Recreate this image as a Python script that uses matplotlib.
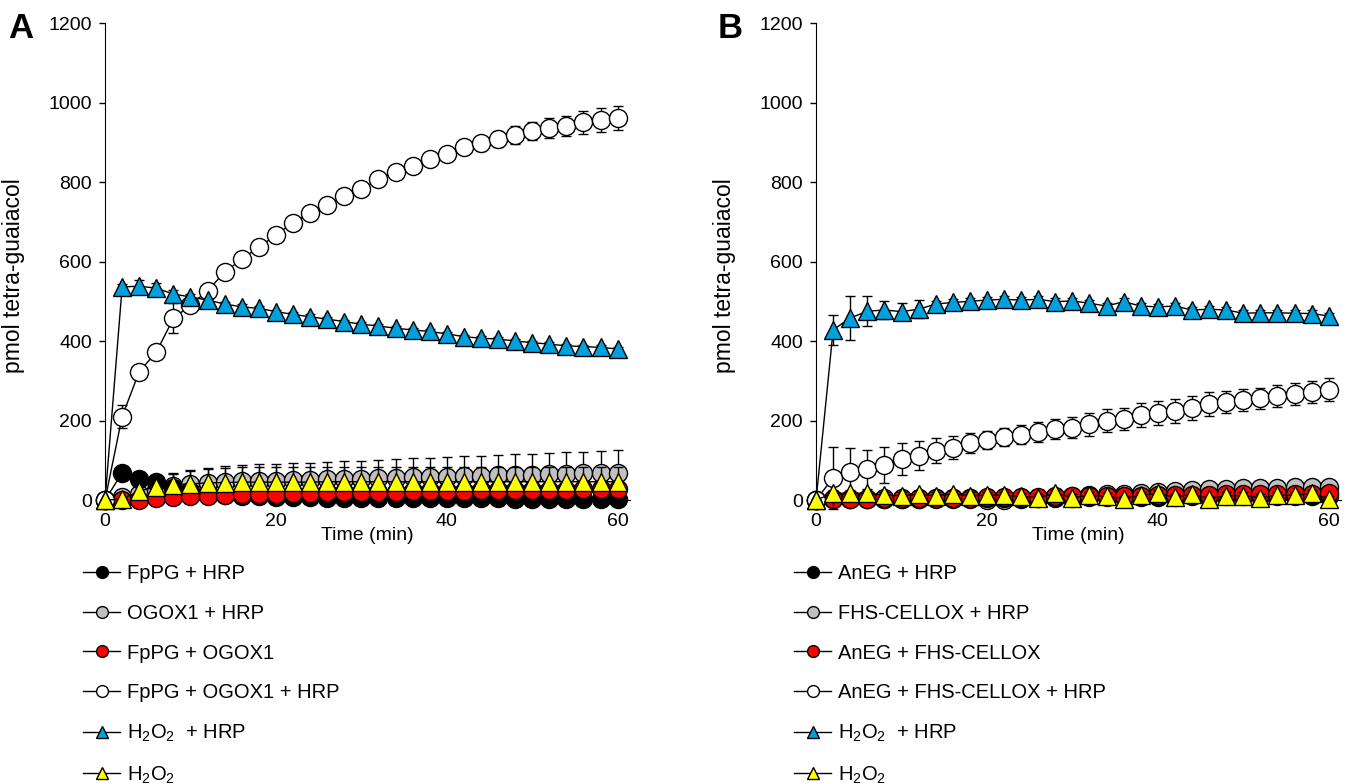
import numpy as np
import matplotlib.pyplot as plt
from matplotlib.lines import Line2D

plt.rcParams['font.family'] = ['Liberation Sans', 'DejaVu Sans']
plt.rcParams['mathtext.fontset'] = 'custom'
plt.rcParams['mathtext.rm'] = 'Liberation Sans'
plt.rcParams['mathtext.it'] = 'Liberation Sans:italic'

# time points (min)
time_min = np.arange(0, 61, 2)

# ---------------- panel A ----------------
labels_a = ['FpPG + HRP', 'OGOX1 + HRP', 'FpPG + OGOX1', 'FpPG + OGOX1 + HRP',
            'H$_2$O$_2$  + HRP', 'H$_2$O$_2$']

a_fppg_hrp = [0, 68, 53, 46, 30, 22, 16, 12, 10, 9, 8, 7, 7, 6, 6, 5, 5, 5, 4, 4,
              4, 4, 4, 4, 3, 3, 3, 3, 3, 3, 3]
a_fppg_hrp_err = [0, 5, 5, 5, 4, 4, 3, 3, 3, 3, 3, 3, 3, 3, 3, 3, 3, 3, 3, 3,
                  3, 3, 3, 3, 3, 3, 3, 3, 3, 3, 3]
a_ogox_hrp = [0, 8, 14, 25, 35, 40, 43, 45, 47, 48, 49, 50, 51, 52, 53, 54, 55, 56, 57, 58,
              59, 60, 61, 62, 63, 64, 65, 66, 67, 68, 69]
a_ogox_hrp_err = [0, 12, 25, 30, 32, 35, 38, 40, 40, 42, 42, 43, 43, 44, 45, 45, 46, 47, 48, 48,
                  49, 50, 50, 51, 52, 53, 54, 54, 55, 56, 57]
a_fppg_ogox = [0, 0, 1, 5, 8, 10, 11, 13, 14, 15, 16, 17, 18, 19, 19, 20, 21, 21, 22, 22,
               23, 23, 24, 24, 25, 25, 26, 26, 27, 27, 28]
a_fppg_ogox_err = [0, 2, 2, 3, 3, 3, 3, 3, 3, 3, 3, 3, 3, 3, 3, 3, 3, 3, 3, 3,
                   3, 3, 3, 3, 3, 3, 3, 3, 3, 3, 3]
a_all = [0, 210, 323, 372, 457, 490, 527, 573, 606, 636, 667, 698, 722, 742, 765, 782, 807, 826,
         841, 858, 870, 887, 897, 908, 918, 928, 935, 942, 950, 955, 962]
a_all_err = [0, 30, 10, 8, 38, 12, 10, 8, 8, 8, 12, 15, 12, 8, 8, 8, 10, 12, 10, 10,
             12, 15, 18, 20, 22, 22, 25, 25, 28, 30, 30]
a_h2o2_hrp = [0, 536, 538, 533, 518, 511, 503, 493, 486, 482, 474, 467, 461, 455, 449, 442,
              438, 432, 428, 424, 418, 411, 407, 405, 400, 396, 392, 388, 386, 384, 380]
a_h2o2_hrp_err = [0, 8, 15, 12, 10, 8, 6, 6, 6, 6, 5, 6, 6, 5, 5, 5, 5, 5, 5, 5,
                  5, 5, 5, 5, 5, 5, 5, 5, 5, 5, 5]
a_h2o2 = [0, 2, 23, 33, 38, 41, 43, 44, 45, 45, 45, 45, 45, 46, 46, 46, 46, 46, 46, 46,
          46, 46, 46, 46, 46, 46, 46, 46, 46, 46, 46]
a_h2o2_err = [0, 2, 10, 20, 28, 32, 35, 37, 38, 38, 38, 38, 38, 38, 38, 38, 38, 38, 38, 38,
              38, 38, 38, 38, 38, 38, 38, 38, 38, 38, 38]

# ---------------- panel B ----------------
labels_b = ['AnEG + HRP', 'FHS-CELLOX + HRP', 'AnEG + FHS-CELLOX',
            'AnEG + FHS-CELLOX + HRP', 'H$_2$O$_2$  + HRP', 'H$_2$O$_2$']

b_aneg_hrp = [0, 2, 2, 2, 3, 3, 3, 4, 4, 4, 5, 5, 5, 6, 6, 6, 7, 7, 7, 8,
              8, 8, 9, 9, 9, 10, 10, 10, 11, 11, 11]
b_aneg_hrp_err = [0, 3, 3, 3, 3, 3, 3, 3, 3, 3, 3, 3, 3, 3, 3, 3, 3, 3, 3, 3,
                  3, 3, 3, 3, 3, 3, 3, 3, 3, 3, 3]
b_cellox_hrp = [0, 3, 3, 3, 3, 3, 3, 3, 3, 2, 0, 0, 2, 5, 8, 10, 12, 14, 16, 18,
                20, 22, 25, 27, 28, 29, 30, 31, 32, 32, 33]
b_cellox_hrp_err = [0, 5, 5, 5, 5, 5, 6, 6, 6, 6, 6, 7, 8, 8, 9, 10, 10, 10, 11, 11,
                    12, 12, 12, 13, 13, 13, 14, 14, 14, 15, 15]
b_aneg_cellox = [0, 2, 3, 3, 4, 4, 5, 5, 6, 6, 7, 7, 8, 8, 9, 9, 10, 10, 11, 11,
                 12, 12, 13, 13, 14, 14, 15, 15, 16, 16, 17]
b_aneg_cellox_err = [0, 3, 3, 3, 3, 3, 3, 3, 3, 3, 3, 3, 3, 3, 3, 3, 3, 3, 3, 3,
                     3, 3, 3, 3, 3, 3, 3, 3, 3, 3, 3]
b_all = [0, 56, 71, 77, 88, 103, 112, 124, 132, 143, 151, 158, 164, 172, 179, 182, 190, 200,
         203, 214, 218, 225, 231, 241, 247, 252, 256, 262, 266, 272, 278]
b_all_err = [0, 78, 60, 50, 46, 40, 36, 31, 28, 25, 22, 22, 24, 25, 26, 27, 28, 30, 28, 30,
             30, 30, 30, 30, 28, 28, 27, 27, 28, 28, 28]
b_h2o2_hrp = [0, 428, 458, 475, 478, 474, 480, 493, 497, 500, 503, 505, 503, 505, 499, 501,
              495, 488, 499, 488, 486, 488, 478, 480, 478, 470, 471, 471, 470, 469, 463]
b_h2o2_hrp_err = [0, 37, 55, 38, 23, 22, 23, 8, 8, 8, 8, 8, 8, 8, 8, 8, 8, 8, 8, 8,
                  8, 8, 8, 8, 8, 8, 8, 8, 8, 8, 8]
b_h2o2 = [0, 17, 17, 17, 12, 11, 14, 11, 15, 11, 12, 12, 9, 6, 17, 6, 12, 9, 3, 12,
          17, 7, 15, 3, 11, 11, 6, 12, 12, 17, 3]
b_h2o2_err = [0, 8, 8, 8, 8, 8, 8, 8, 8, 8, 8, 8, 8, 8, 8, 8, 8, 8, 8, 8,
              8, 8, 8, 8, 8, 8, 8, 8, 8, 8, 8]

y_ticks = [0, 200, 400, 600, 800, 1000, 1200]
x_ticks = [0, 20, 40, 60]

# marker, face colour, zorder (same order as the legend)
styles = [('o', 'black', 4),
          ('o', '#c0c0c0', 3),
          ('o', '#ff0000', 5),
          ('o', 'white', 6),
          ('^', '#00a0dc', 7),
          ('^', '#ffff00', 8)]


def draw_panel(ax, series, labels):
    for (vals, errs), (mk, fc, z) in zip(series, styles):
        vals = np.array(vals, dtype=float)
        errs = np.array(errs, dtype=float)
        ax.errorbar(time_min, vals, yerr=[np.zeros_like(errs), errs] if z in (3, 8) else errs,
                    color='black', lw=1, marker=mk, ms=13 if mk == 'o' else 13.5,
                    mfc=fc, mec='black', mew=1, ecolor='black', elinewidth=1,
                    capsize=3.5, capthick=1, zorder=z, clip_on=False)
    ax.set_xlim(0, 61.4)
    ax.set_ylim(0, 1200)
    ax.set_xticks(x_ticks)
    ax.set_yticks(y_ticks)
    ax.spines['top'].set_visible(False)
    ax.spines['right'].set_visible(False)
    ax.tick_params(direction='out', length=4.5, width=1, labelsize=14, pad=5)
    ax.set_xlabel('Time (min)', fontsize=14)
    ax.xaxis.set_label_coords(0.5, -0.057)
    ax.set_ylabel('pmol tetra-guaiacol', fontsize=16.5)
    ax.yaxis.set_label_coords(-0.152, 0.47)

    handles = [Line2D([], [], color='black', lw=1, marker=mk, ms=8.5 if mk == 'o' else 9,
                      mfc=fc, mec='black', mew=1) for mk, fc, z in styles]
    ax.legend(handles, labels, loc='upper left', bbox_to_anchor=(-0.042, -0.135),
              frameon=False, fontsize=14.5, handlelength=1.85, handletextpad=0.35,
              labelspacing=1.02, borderpad=0, borderaxespad=0, numpoints=1)


fig = plt.figure(figsize=(13.52, 7.83), dpi=100)
ax_a = fig.add_axes([0.0777, 0.3614, 0.388, 0.6092])
ax_b = fig.add_axes([0.6036, 0.3614, 0.388, 0.6092])

series_a = [(a_fppg_hrp, a_fppg_hrp_err), (a_ogox_hrp, a_ogox_hrp_err),
            (a_fppg_ogox, a_fppg_ogox_err), (a_all, a_all_err),
            (a_h2o2_hrp, a_h2o2_hrp_err), (a_h2o2, a_h2o2_err)]
series_b = [(b_aneg_hrp, b_aneg_hrp_err), (b_cellox_hrp, b_cellox_hrp_err),
            (b_aneg_cellox, b_aneg_cellox_err), (b_all, b_all_err),
            (b_h2o2_hrp, b_h2o2_hrp_err), (b_h2o2, b_h2o2_err)]

draw_panel(ax_a, series_a, labels_a)
draw_panel(ax_b, series_b, labels_b)

fig.text(21 / 1352, 1 - 28 / 783, 'A', fontsize=25, fontweight='bold', ha='center', va='center')
fig.text(730 / 1352, 1 - 29 / 783, 'B', fontsize=25, fontweight='bold', ha='center', va='center')

fig.savefig('out.png', dpi=100)
